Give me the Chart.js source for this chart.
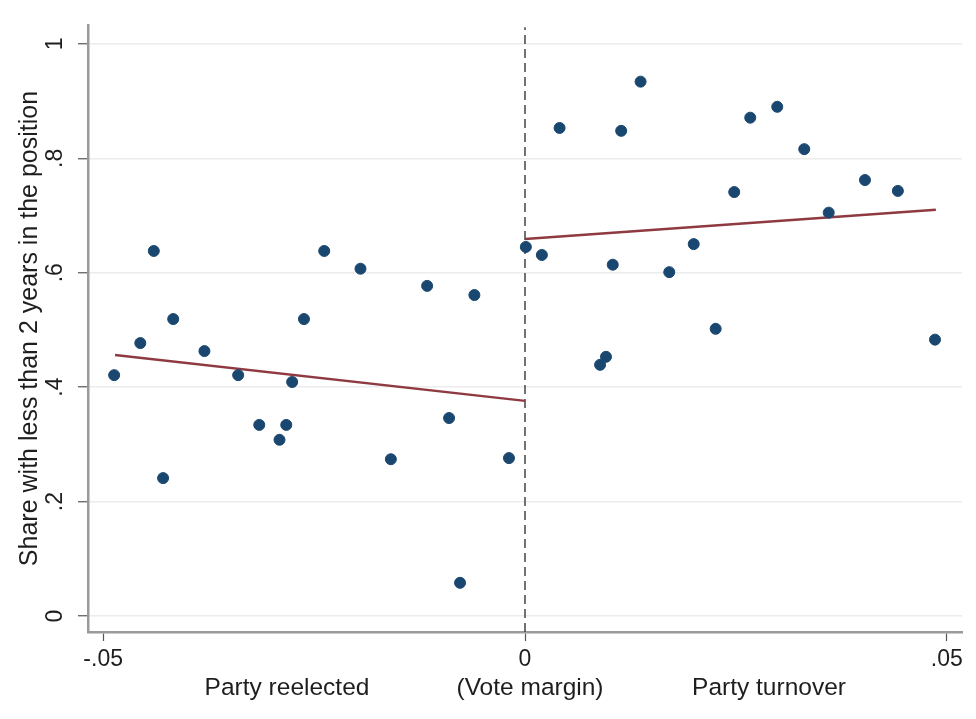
<!DOCTYPE html>
<html>
<head>
<meta charset="utf-8">
<script src="https://cdn.jsdelivr.net/npm/chart.js@4"></script>
<style>
  body { margin: 0; background: #fff; }
  .wrap { width: 976px; height: 719px; }
</style>
</head>
<body>
<div class="wrap"><canvas id="rdChart"></canvas></div>
<script>
// vote margin (x) and share with < 2 years in position (y), bin means
const leftX = [-0.0487, -0.0456, -0.0440, -0.0429, -0.0417, -0.0380, -0.0340, -0.0315, -0.0291, -0.0283,
               -0.0276, -0.0262, -0.0238, -0.0195, -0.0159, -0.0116, -0.0090, -0.0077, -0.0060, -0.0019];
const leftY = [0.421, 0.477, 0.638, 0.241, 0.519, 0.463, 0.421, 0.334, 0.308, 0.334,
               0.409, 0.519, 0.638, 0.607, 0.274, 0.577, 0.346, 0.058, 0.561, 0.276];
const rightX = [0.0001, 0.0020, 0.0041, 0.0089, 0.0096, 0.0104, 0.0114, 0.0137, 0.0171, 0.0200,
                0.0226, 0.0248, 0.0267, 0.0299, 0.0331, 0.0360, 0.0403, 0.0442, 0.0486];
const rightY = [0.645, 0.631, 0.853, 0.439, 0.453, 0.614, 0.848, 0.934, 0.601, 0.650,
                0.502, 0.741, 0.871, 0.890, 0.816, 0.705, 0.762, 0.743, 0.483];

// linear fits on each side of the cutoff
const fitLeftX = [-0.0486, 0];
const fitLeftY = [0.456, 0.376];
const fitRightX = [0, 0.0487];
const fitRightY = [0.659, 0.710];

// axis ranges and ticks
const xMin = -0.0518, xMax = 0.0518;
const yMin = -0.028, yMax = 1.033;
const xTickStep = 0.05;
const yTickStep = 0.2;
const sideLabels = ['Party reelected', '(Vote margin)', 'Party turnover'];
const yTitle = 'Share with less than 2 years in the position';

const toPts = (xs, ys) => xs.map((x, i) => ({x: x, y: ys[i]}));

const fmt = v => {
    if (v === 0) return '0';
    return String(Math.round(v * 100) / 100).replace('0.', '.');
};

const textFont = '"Liberation Sans", Arial, Helvetica, sans-serif';
const navy = '#1a476f';
const maroon = '#8e3a40';

// rotated y tick labels + the text under the x axis
const extraText = {
    id: 'extraText',
    afterDraw(chart) {
        const ctx = chart.ctx;
        const ys = chart.scales.y;
        const area = chart.chartArea;
        ctx.save();
        ctx.fillStyle = '#1e1e1e';
        ctx.font = '23px ' + textFont;
        ctx.textAlign = 'center';
        ctx.textBaseline = 'middle';
        ys.ticks.forEach(t => {
            const py = ys.getPixelForValue(t.value);
            ctx.save();
            ctx.translate(area.left - 32, py);
            ctx.rotate(-Math.PI / 2);
            ctx.fillText(fmt(t.value), 0, 0);
            ctx.restore();
        });
        ctx.font = '24.5px ' + textFont;
        const cy = area.bottom + 56;
        ctx.fillText(sideLabels[0], 287, cy);
        ctx.fillText(sideLabels[1], 530, cy);
        ctx.fillText(sideLabels[2], 769, cy);
        ctx.restore();
    }
};

const data = {
    datasets: [
        {
            label: 'bins left',
            data: toPts(leftX, leftY),
            backgroundColor: navy,
            borderColor: navy,
            pointRadius: 5.5,
            order: 0
        },
        {
            label: 'bins right',
            data: toPts(rightX, rightY),
            backgroundColor: navy,
            borderColor: navy,
            pointRadius: 5.5,
            order: 0
        },
        {
            label: 'fit left',
            data: toPts(fitLeftX, fitLeftY),
            showLine: true,
            borderColor: maroon,
            borderWidth: 2.5,
            pointRadius: 0,
            order: 1
        },
        {
            label: 'fit right',
            data: toPts(fitRightX, fitRightY),
            showLine: true,
            borderColor: maroon,
            borderWidth: 2.5,
            pointRadius: 0,
            order: 1
        },
        {
            label: 'cutoff',
            data: [{x: 0, y: yMin}, {x: 0, y: yMax - 0.004}],
            showLine: true,
            borderColor: '#444',
            borderWidth: 1.5,
            borderDash: [9, 5],
            pointRadius: 0,
            order: 2
        }
    ]
};

const config = {
    type: 'scatter',
    data: data,
    options: {
        responsive: true,
        maintainAspectRatio: false,
        animation: false,
        layout: {
            padding: {left: 0, right: 14, top: 25, bottom: 0}
        },
        scales: {
            x: {
                type: 'linear',
                min: xMin,
                max: xMax,
                afterFit: s => { s.height = 87; },
                border: {color: '#9a9a9a', width: 2.5},
                grid: {
                    drawOnChartArea: false,
                    tickColor: '#555',
                    tickLength: 9,
                    tickWidth: 1.2
                },
                ticks: {
                    stepSize: xTickStep,
                    includeBounds: false,
                    padding: 5,
                    color: '#1e1e1e',
                    font: {size: 23, family: textFont},
                    maxRotation: 0,
                    callback: v => fmt(v)
                }
            },
            y: {
                type: 'linear',
                min: yMin,
                max: yMax,
                afterFit: s => { s.width = 88; },
                border: {color: '#9a9a9a', width: 2.5},
                grid: {
                    color: '#ececec',
                    lineWidth: 1.5,
                    tickColor: '#555',
                    tickLength: 10,
                    tickWidth: 1.2
                },
                ticks: {
                    stepSize: yTickStep,
                    includeBounds: false,
                    display: false
                },
                title: {
                    display: true,
                    text: yTitle,
                    color: '#1e1e1e',
                    font: {size: 25, family: textFont},
                    padding: {top: 15, bottom: 0}
                }
            }
        },
        plugins: {
            legend: {display: false},
            tooltip: {enabled: false}
        }
    },
    plugins: [extraText]
};

const rdChart = new Chart(
    document.getElementById('rdChart'),
    config
);
</script>
</body>
</html>
